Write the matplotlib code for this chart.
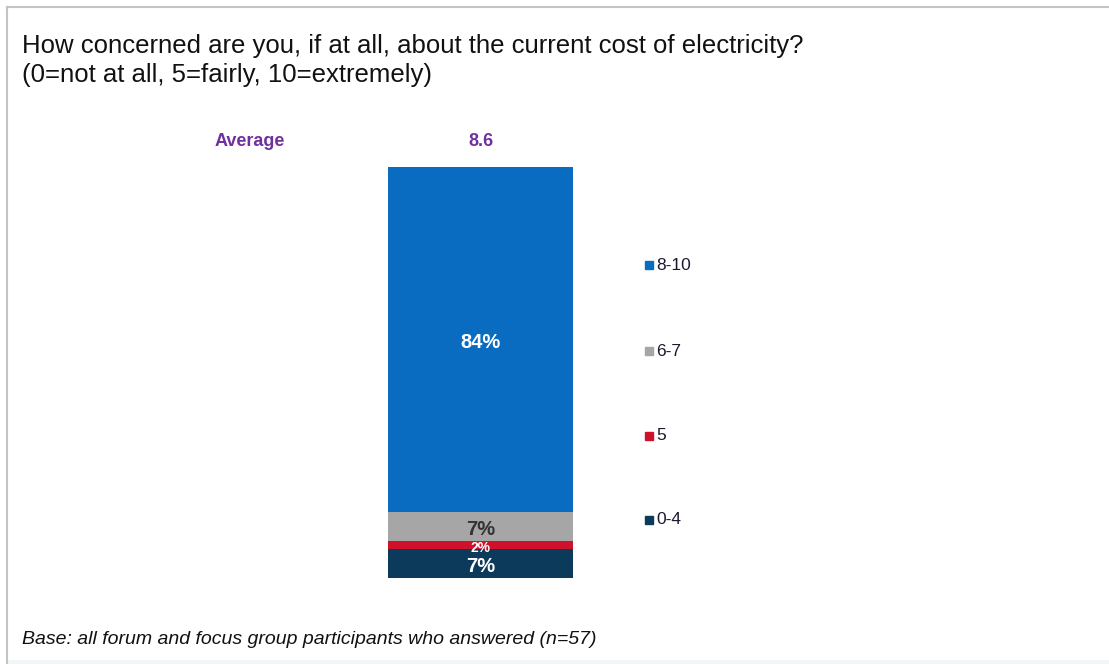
import matplotlib.pyplot as plt
from matplotlib.lines import Line2D
from matplotlib.patches import Rectangle

plt.rcParams['font.family'] = ['Liberation Sans', 'DejaVu Sans']

# data (bottom to top)
categories = ["0-4", "5", "6-7", "8-10"]
values = [7, 2, 7, 84]
colors = ["#0B3A5B", "#D0112B", "#A6A6A6", "#0A6CC0"]
label_colors = ["white", "white", "#333333", "white"]
label_sizes = [14.5, 10, 14.5, 14.5]
average = 8.6

W, H = 1109, 664
fig = plt.figure(figsize=(W / 100, H / 100), dpi=100)

# slide frame: top and left edges, faint band at the bottom
fig.lines.append(Line2D([7 / W, 1], [1 - 7 / H, 1 - 7 / H], transform=fig.transFigure,
                        color="#c4c4c4", linewidth=1.5))
fig.lines.append(Line2D([7 / W, 7 / W], [0, 1 - 7 / H], transform=fig.transFigure,
                        color="#c4c4c4", linewidth=1.5))
fig.patches.append(Rectangle((7 / W, 0), 1, 4 / H, transform=fig.transFigure,
                             color="#f3f6f6", linewidth=0))

# stacked bar
ax = fig.add_axes([388 / W, (H - 578) / H, (573 - 388) / W, 411 / H])
bottom = 0
for cat, v, c, lc, ls in zip(categories, values, colors, label_colors, label_sizes):
    ax.bar(0, v, bottom=bottom, width=1.0, color=c, edgecolor="none")
    ax.text(0, bottom + v / 2 - 0.6, f"{v}%", ha="center", va="center",
            color=lc, fontsize=ls, fontweight="bold")
    bottom += v
ax.set_xlim(-0.5, 0.5)
ax.set_ylim(0, sum(values))
ax.axis("off")

# title
fig.text(22 / W, 1 - 46 / H, "How concerned are you, if at all, about the current cost of electricity?",
         fontsize=18.5, color="#111111", va="center", ha="left")
fig.text(22 / W, 1 - 75 / H, "(0=not at all, 5=fairly, 10=extremely)",
         fontsize=18.5, color="#111111", va="center", ha="left")

# average row
fig.text(250 / W, 1 - 142 / H, "Average", fontsize=13, fontweight="bold",
         color="#7030A0", ha="center", va="center")
fig.text(480.5 / W, 1 - 142 / H, f"{average}", fontsize=13, fontweight="bold",
         color="#7030A0", ha="center", va="center")

# legend (top to bottom)
leg_y = [265, 351, 436, 520]
for cat, c, y in zip(categories[::-1], colors[::-1], leg_y):
    fig.patches.append(Rectangle((645 / W, 1 - (y + 4) / H), 8 / W, 8 / H,
                                 transform=fig.transFigure, color=c))
    fig.text(656 / W, 1 - y / H, cat, fontsize=12.5, color="#1a1a2e",
             ha="left", va="center")

# footnote
fig.text(22 / W, 1 - 640 / H, "Base: all forum and focus group participants who answered (n=57)",
         fontsize=14, style="italic", color="#111111", ha="left", va="center")

fig.savefig("out.png", dpi=100)
